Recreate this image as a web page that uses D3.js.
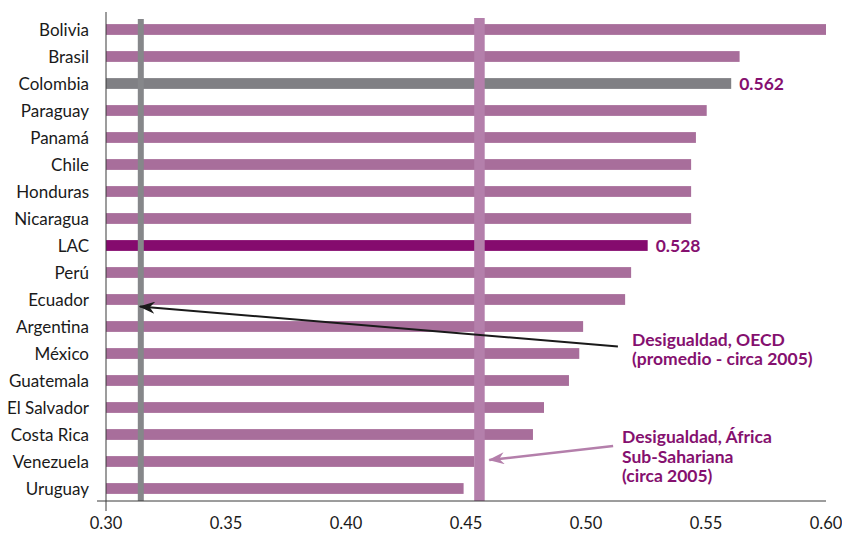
<!DOCTYPE html>
<html>
<head>
<meta charset="utf-8">
<script src="https://cdn.jsdelivr.net/npm/d3@7"></script>
<style>
  body { margin: 0; background: #ffffff; }
  svg { display: block; font-family: Lato, "Open Sans", sans-serif; }
</style>
</head>
<body>
<div id="chart"></div>
<script>
// datos
const paises = ["Bolivia", "Brasil", "Colombia", "Paraguay", "Panamá", "Chile", "Honduras",
    "Nicaragua", "LAC", "Perú", "Ecuador", "Argentina", "México", "Guatemala",
    "El Salvador", "Costa Rica", "Venezuela", "Uruguay"];
const gini = [0.600, 0.564, 0.5605, 0.5503, 0.5458, 0.5438, 0.5438,
    0.5438, 0.5257, 0.5188, 0.5163, 0.4988, 0.4972, 0.4929,
    0.4825, 0.4779, 0.4535, 0.449];
const etiquetas = { "Colombia": "0.562", "LAC": "0.528" };
const xTicks = [0.30, 0.35, 0.40, 0.45, 0.50, 0.55, 0.60];
const oecd = 0.3145;
const africa = 0.4555;

const data = paises.map((p, i) => ({ pais: p, valor: gini[i] }));

const width = 842, height = 535;
const colors = {
    bar: "#a86e9b",
    colombia: "#808084",
    lac: "#850b6e",
    oecd: "#86878a",
    africa: "#b47fab",
    texto: "#85106f",
    eje: "#3a3a3a"
};

const svg = d3.select("#chart")
    .append("svg")
    .attr("width", width)
    .attr("height", height);

const x = d3.scaleLinear()
    .domain([0.30, 0.60])
    .range([106, 826]);

const y = d3.scaleBand()
    .domain(paises)
    .range([16, 502])
    .paddingInner(0.6)
    .paddingOuter(0.3);

// barras
svg.selectAll(".bar")
    .data(data)
    .enter()
    .append("rect")
    .attr("class", "bar")
    .attr("x", x(0.30))
    .attr("y", d => y(d.pais))
    .attr("width", d => x(d.valor) - x(0.30))
    .attr("height", y.bandwidth())
    .attr("fill", d => d.pais === "Colombia" ? colors.colombia : d.pais === "LAC" ? colors.lac : colors.bar);

// etiquetas de valor
svg.selectAll(".valor")
    .data(data.filter(d => etiquetas[d.pais]))
    .enter()
    .append("text")
    .attr("class", "valor")
    .attr("x", d => x(d.valor) + 8)
    .attr("y", d => y(d.pais) + y.bandwidth() / 2)
    .attr("dy", "0.36em")
    .attr("font-size", "17.5px")
    .attr("font-weight", "bold")
    .attr("fill", colors.texto)
    .text(d => etiquetas[d.pais]);

// lineas de referencia
svg.append("rect")
    .attr("x", x(oecd) - 3)
    .attr("y", 19)
    .attr("width", 6)
    .attr("height", 501 - 19)
    .attr("fill", colors.oecd);

svg.append("rect")
    .attr("x", x(africa) - 5)
    .attr("y", 18)
    .attr("width", 10.5)
    .attr("height", 501 - 18)
    .attr("fill", colors.africa);

// ejes
svg.append("line")
    .attr("x1", 97).attr("x2", x(0.60))
    .attr("y1", 501).attr("y2", 501)
    .attr("stroke", colors.eje)
    .attr("stroke-width", 1);

svg.append("line")
    .attr("x1", x(0.30)).attr("x2", x(0.30))
    .attr("y1", 12).attr("y2", 511)
    .attr("stroke", colors.eje)
    .attr("stroke-width", 1);

svg.selectAll(".tick-label")
    .data(xTicks)
    .enter()
    .append("text")
    .attr("class", "tick-label")
    .attr("x", d => x(d))
    .attr("y", 529)
    .attr("text-anchor", "middle")
    .attr("font-size", "16.5px")
    .attr("fill", "#1a1a1a")
    .text(d => d3.format(".2f")(d));

svg.selectAll(".pais")
    .data(data)
    .enter()
    .append("text")
    .attr("class", "pais")
    .attr("x", 89)
    .attr("y", d => y(d.pais) + y.bandwidth() / 2)
    .attr("dy", "0.36em")
    .attr("text-anchor", "end")
    .attr("font-size", "17px")
    .attr("fill", "#1a1a1a")
    .text(d => d.pais);

// flechas
const defs = svg.append("defs");
function marker(id, color) {
    defs.append("marker")
        .attr("id", id)
        .attr("viewBox", "0 0 16 12")
        .attr("refX", 15)
        .attr("refY", 6)
        .attr("markerWidth", 16)
        .attr("markerHeight", 12)
        .attr("markerUnits", "userSpaceOnUse")
        .attr("orient", "auto")
        .append("path")
        .attr("d", "M0,0 L16,6 L0,12 L5,6 Z")
        .attr("fill", color);
}
marker("flecha-oecd", "#1a1a1a");
marker("flecha-africa", colors.africa);

const mid = p => y(p) + y.bandwidth() / 2;

svg.append("line")
    .attr("x1", x(0.5133)).attr("y1", mid("México") - 7)
    .attr("x2", x(oecd) - 1).attr("y2", mid("Ecuador") + 7)
    .attr("stroke", "#1a1a1a")
    .attr("stroke-width", 2)
    .attr("marker-end", "url(#flecha-oecd)");

svg.append("line")
    .attr("x1", x(0.5113)).attr("y1", mid("Costa Rica") + 11.5)
    .attr("x2", x(0.4597)).attr("y2", mid("Venezuela") - 1.5)
    .attr("stroke", colors.africa)
    .attr("stroke-width", 2.5)
    .attr("marker-end", "url(#flecha-africa)");

// notas
function nota(lineas, x0, y0, dy) {
    const t = svg.append("text")
        .attr("x", x0)
        .attr("y", y0)
        .attr("font-size", "17.5px")
        .attr("font-weight", "bold")
        .attr("fill", colors.texto);
    lineas.forEach((l, i) => {
        t.append("tspan")
            .attr("x", x0)
            .attr("y", y0 + i * dy)
            .text(l);
    });
}
nota(["Desigualdad, OECD", "(promedio - circa 2005)"], 632, 346, 19);
nota(["Desigualdad, África", "Sub-Sahariana", "(circa 2005)"], 622, 443, 19.5);
</script>
</body>
</html>
